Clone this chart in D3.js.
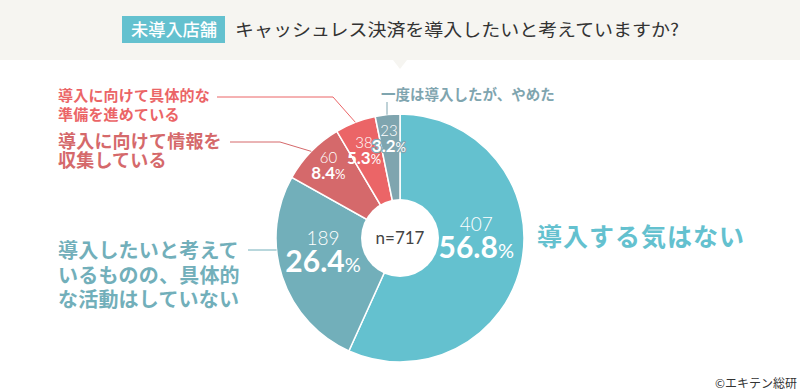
<!DOCTYPE html>
<html><head><meta charset="utf-8">
<script src="https://cdn.jsdelivr.net/npm/d3@7"></script>
<style>
html,body{margin:0;padding:0;background:#fff;}
svg{display:block;}
text{font-family:"Noto Sans CJK JP","Noto Sans",sans-serif;}
.num{font-family:Lato,"Open Sans",sans-serif;}
</style></head>
<body>
<svg id="chart" width="800" height="392"></svg>
<script>
const categories = ["導入する気はない","導入したいと考えているものの、具体的な活動はしていない","導入に向けて情報を収集している","導入に向けて具体的な準備を進めている","一度は導入したが、やめた"];
const counts = [407,189,60,38,23];
const percents = ["56.8","26.4","8.4","5.3","3.2"];
const colors = ["#64c1cf","#72afba","#d5696b","#eb6567","#7fa5af"];
const labelLines = [["導入する気はない"],["導入したいと考えて","いるものの、具体的","な活動はしていない"],["導入に向けて情報を","収集している"],["導入に向けて具体的な","準備を進めている"],["一度は導入したが、やめた"]];
const total = 717;
const titleTag = "未導入店舗";
const titleText = "キャッシュレス決済を導入したいと考えていますか?";
const credit = "©エキテン総研";

const svg = d3.select("#chart");
// header band
svg.append("rect").attr("x",0).attr("y",0).attr("width",800).attr("height",60).attr("fill","#f6f5f1");
svg.append("path").attr("d","M393,60 L407,60 L400,69 Z").attr("fill","#f6f5f1");
svg.append("rect").attr("x",122).attr("y",16).attr("width",103).attr("height",27).attr("fill","#64c1cf");
svg.append("text").attr("x",131).attr("y",36).attr("fill","#fff").attr("font-size",17).attr("font-weight",500)
  .attr("textLength",86).attr("lengthAdjust","spacingAndGlyphs").text(titleTag);
svg.append("text").attr("x",235).attr("y",36).attr("fill","#333").attr("font-size",17.5)
  .attr("textLength",444).attr("lengthAdjust","spacingAndGlyphs").text(titleText);

const cx=400, cy=238, R=124, r0=39;
const g = svg.append("g").attr("transform",`translate(${cx},${cy})`);
const pie = d3.pie().sort(null).value(d=>d)(counts);
const arc = d3.arc().innerRadius(0).outerRadius(R);
g.selectAll("path.slice").data(pie).join("path").attr("class","slice")
  .attr("d",arc).attr("fill",(d,i)=>colors[i]).attr("stroke","#fff").attr("stroke-width",1.5);
g.append("circle").attr("r",r0).attr("fill","#fff");
g.append("text").attr("class","num").attr("text-anchor","middle").attr("y",6).attr("font-size",17)
  .attr("fill","#444").text("n="+total);

// inside labels
const lr = [78,80,100,100,100];
const off = [[0,-14],[-1,-9],[0,0],[0,8],[-1,2]];
pie.forEach((d,i)=>{
  const a=(d.startAngle+d.endAngle)/2;
  const x=Math.sin(a)*lr[i]+off[i][0], y=-Math.cos(a)*lr[i]+off[i][1];
  const big = i<2;
  const t = g.append("g").attr("transform",`translate(${x},${y})`);
  t.append("text").attr("class","num").attr("text-anchor","middle").attr("y",big?-9:-5)
    .attr("font-size",big?19:15).attr("font-weight",300).attr("fill","#fff").text(counts[i]);
  const p = t.append("text").attr("class","num").attr("text-anchor","middle").attr("y",big?18:11)
    .attr("fill","#fff");
  if(i===4){p.attr("stroke","#7fa5af").attr("stroke-width",2.5).attr("stroke-linejoin","round").attr("paint-order","stroke");}
  p.append("tspan").attr("font-size",big?30:17).attr("font-weight",700).text(percents[i]);
  p.append("tspan").attr("font-size",big?20:13).attr("font-weight",400).text("%");
});

// leader lines
function edge(i){const d=pie[i];const a=(d.startAngle+d.endAngle)/2;return [cx+Math.sin(a)*R, cy-Math.cos(a)*R];}
const e3=edge(3), e2=edge(2);
svg.append("polyline").attr("points",`217,97 333,97 ${e3[0]},${e3[1]}`).attr("fill","none").attr("stroke",colors[3]).attr("stroke-width",1);
svg.append("polyline").attr("points",`230,142 280,142 ${e2[0]},${e2[1]}`).attr("fill","none").attr("stroke",colors[2]).attr("stroke-width",1);
const y1=250, x1=cx-Math.sqrt(R*R-(y1-cy)*(y1-cy));
svg.append("line").attr("x1",248).attr("y1",y1).attr("x2",x1).attr("y2",y1).attr("stroke",colors[1]).attr("stroke-width",1);
const xv=387, yv=cy-Math.sqrt(R*R-(xv-cx)*(xv-cx));
svg.append("line").attr("x1",xv).attr("y1",102).attr("x2",xv).attr("y2",yv).attr("stroke",colors[4]).attr("stroke-width",1);

// outside labels
function block(i,x,y,size,lh,ls){
  const t=svg.append("text").attr("fill",colors[i]).attr("font-size",size).attr("font-weight",700).attr("letter-spacing",ls);
  labelLines[i].forEach((s,k)=>t.append("tspan").attr("x",x).attr("y",y+k*lh).text(s));
}
block(0,537,246,25,0,1);
block(1,58,258,20,24.5,0.2);
block(2,58,148,18,19,0.2);
block(3,58,101,15,19,0.2);
block(4,381,100,14.5,0,0);

svg.append("text").attr("x",797).attr("y",388).attr("text-anchor","end").attr("font-size",12).attr("fill","#333").text(credit);
</script>
</body></html>
